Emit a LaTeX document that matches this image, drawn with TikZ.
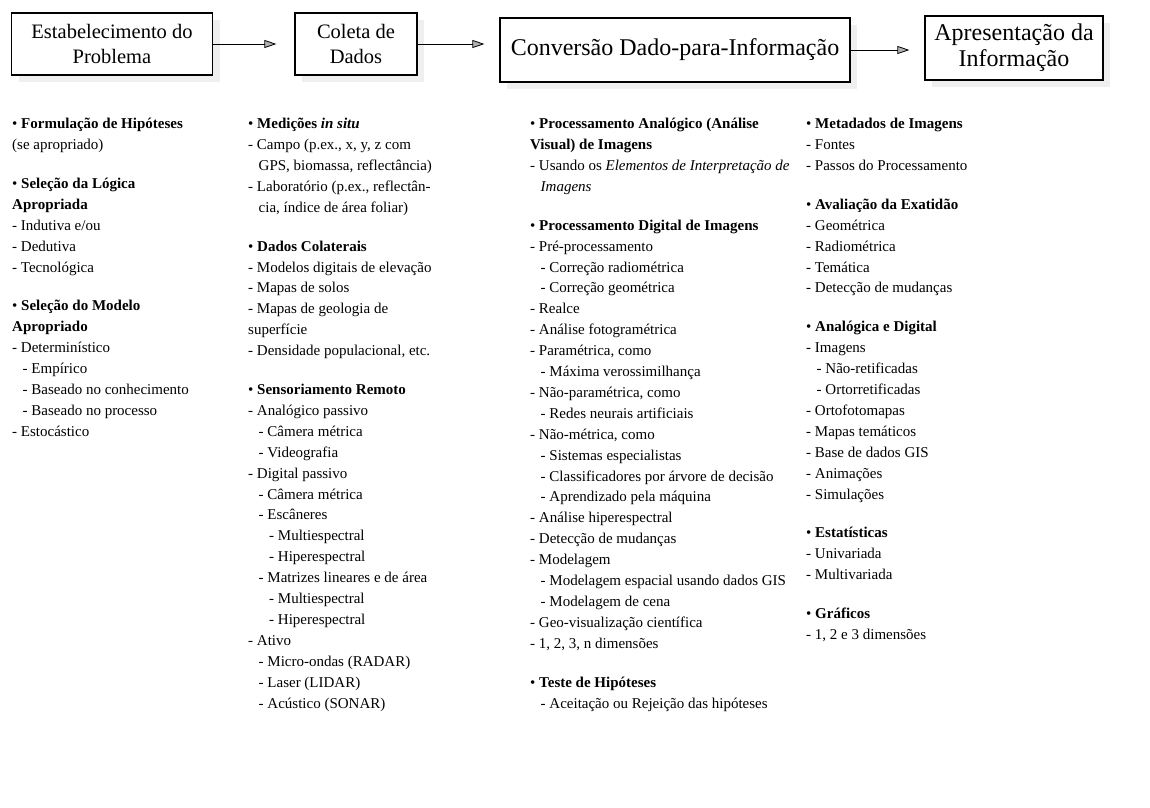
\documentclass[tikz,border=0pt]{standalone}
\usepackage{fontspec}
\setmainfont{Liberation Serif}
\usetikzlibrary{arrows.meta,shadows}
\tikzset{
  etapa/.style={draw, line width=1.2pt, fill=white, align=center, inner sep=2pt,
    font=\fontsize{20.5}{25}\selectfont,
    drop shadow={shadow xshift=7pt, shadow yshift=-7pt, fill=gray!25}},
  etapagrande/.style={etapa, font=\fontsize{24}{26}\selectfont},
  lista/.style={anchor=north west, align=left, inner sep=0pt,
    font=\fontsize{15}{20.9}\selectfont},
  seta/.style={-{Triangle[length=12pt,width=8pt,fill=gray!60]}, line width=0.8pt}
}
\newcommand{\ind}{\hspace*{0.7em}}
\newcommand{\topico}[1]{\textbullet\ \textbf{#1}}
\begin{document}
\begin{tikzpicture}[x=1pt,y=-1pt]
    \useasboundingbox (0,0) rectangle (1150,807);

    \node[etapa, minimum width=201pt, minimum height=62pt] (prob) at (112,44) {Estabelecimento do\\Problema};
    \node[etapa, minimum width=122pt, minimum height=62pt] (coleta) at (356,44) {Coleta de\\Dados};
    \node[etapagrande, minimum width=350pt, minimum height=64pt] (conv) at (675,50) {Conversão Dado-para-Informação};
    \node[etapagrande, minimum width=178pt, minimum height=64pt] (apres) at (1014,48) {Apresentação da\\Informação};

    \draw[seta, shorten >=18pt] (prob) -- (coleta);
    \draw[seta, shorten >=15pt] (coleta.east) -- (coleta.east -| conv.west);
    \draw[seta, shorten >=15pt] (conv.east) -- (conv.east -| apres.west);

    \node[lista] (probtxt) at (12,118) {\topico{Formulação de Hipóteses}\\
      (se apropriado)\\[18pt]
      \topico{Seleção da Lógica}\\
      \textbf{Apropriada}\\
      - Indutiva e/ou\\
      - Dedutiva\\
      - Tecnológica\\[18pt]
      \topico{Seleção do Modelo}\\
      \textbf{Apropriado}\\
      - Determinístico\\
      \ind - Empírico\\
      \ind - Baseado no conhecimento\\
      \ind - Baseado no processo\\
      - Estocástico};

    \node[lista] (coletatxt) at (248,118) {\topico{Medições \textit{in situ}}\\
      - Campo (p.ex., x, y, z com\\
      \ind GPS, biomassa, reflectância)\\
      - Laboratório (p.ex., reflectân-\\
      \ind cia, índice de área foliar)\\[18pt]
      \topico{Dados Colaterais}\\
      - Modelos digitais de elevação\\
      - Mapas de solos\\
      - Mapas de geologia de\\
      superfície\\
      - Densidade populacional, etc.\\[18pt]
      \topico{Sensoriamento Remoto}\\
      - Analógico passivo\\
      \ind - Câmera métrica\\
      \ind - Videografia\\
      - Digital passivo\\
      \ind - Câmera métrica\\
      \ind - Escâneres\\
      \ind\ind - Multiespectral\\
      \ind\ind - Hiperespectral\\
      \ind - Matrizes lineares e de área\\
      \ind\ind - Multiespectral\\
      \ind\ind - Hiperespectral\\
      - Ativo\\
      \ind - Micro-ondas (RADAR)\\
      \ind - Laser (LIDAR)\\
      \ind - Acústico (SONAR)};

    \node[lista] (convtxt) at (530,118) {\topico{Processamento Analógico (Análise}\\
      \textbf{Visual) de Imagens}\\
      - Usando os \textit{Elementos de Interpretação de}\\
      \ind\textit{Imagens}\\[18pt]
      \topico{Processamento Digital de Imagens}\\
      - Pré-processamento\\
      \ind - Correção radiométrica\\
      \ind - Correção geométrica\\
      - Realce\\
      - Análise fotogramétrica\\
      - Paramétrica, como\\
      \ind - Máxima verossimilhança\\
      - Não-paramétrica, como\\
      \ind - Redes neurais artificiais\\
      - Não-métrica, como\\
      \ind - Sistemas especialistas\\
      \ind - Classificadores por árvore de decisão\\
      \ind - Aprendizado pela máquina\\
      - Análise hiperespectral\\
      - Detecção de mudanças\\
      - Modelagem\\
      \ind - Modelagem espacial usando dados GIS\\
      \ind - Modelagem de cena\\
      - Geo-visualização científica\\
      - 1, 2, 3, n dimensões\\[18pt]
      \topico{Teste de Hipóteses}\\
      \ind - Aceitação ou Rejeição das hipóteses};

    \node[lista] (aprestxt) at (806,118) {\topico{Metadados de Imagens}\\
      - Fontes\\
      - Passos do Processamento\\[18pt]
      \topico{Avaliação da Exatidão}\\
      - Geométrica\\
      - Radiométrica\\
      - Temática\\
      - Detecção de mudanças\\[18pt]
      \topico{Analógica e Digital}\\
      - Imagens\\
      \ind - Não-retificadas\\
      \ind - Ortorretificadas\\
      - Ortofotomapas\\
      - Mapas temáticos\\
      - Base de dados GIS\\
      - Animações\\
      - Simulações\\[18pt]
      \topico{Estatísticas}\\
      - Univariada\\
      - Multivariada\\[18pt]
      \topico{Gráficos}\\
      - 1, 2 e 3 dimensões};
\end{tikzpicture}
\end{document}
